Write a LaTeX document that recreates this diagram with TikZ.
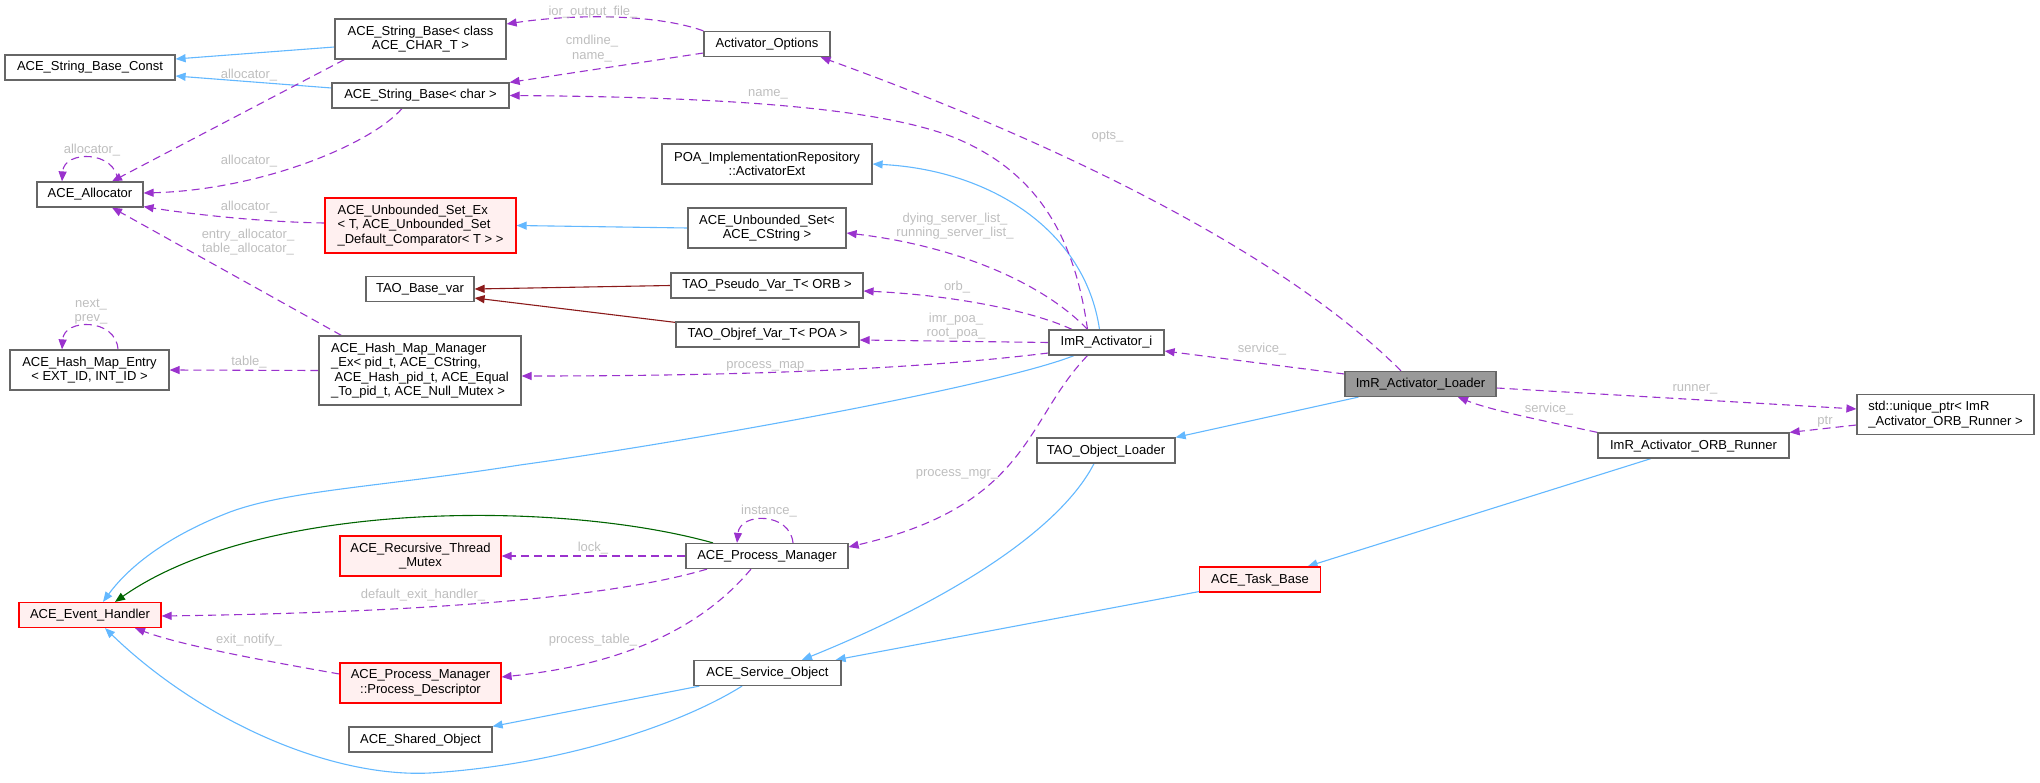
\documentclass[tikz,border=0pt]{standalone}
\usepackage{fontspec}
\setmainfont{Liberation Sans}
\usetikzlibrary{arrows.meta,calc}
\pgfdeclarelayer{bg}
\pgfsetlayers{bg,main}
\definecolor{cPurple}{HTML}{9A32CD}
\definecolor{cBlue}{HTML}{63B8FF}
\definecolor{cDRed}{HTML}{8B1A1A}
\definecolor{cGreen}{HTML}{006400}
\definecolor{cLbl}{HTML}{BEBEBE}
\definecolor{cBorder}{HTML}{666666}
\definecolor{cPink}{HTML}{FFF0F0}
\definecolor{cMain}{HTML}{999999}
\definecolor{cRedB}{HTML}{FF0000}
\tikzset{
  box/.style={draw=cBorder, fill=white, line width=1.2pt, inner sep=0pt, align=center,
    font=\fontsize{13pt}{14.5pt}\selectfont},
  oneline/.style={text height=9.5pt, text depth=2.5pt},
  redbox/.style={box, draw=cRedB, fill=cPink},
  mainbox/.style={box, fill=cMain},
  lbl/.style={text=cLbl, inner sep=0pt, align=center,
    font=\fontsize{13pt}{14.5pt}\selectfont},
  memedge/.style={draw=cPurple, line width=1.1pt, dash pattern=on 8pt off 5pt,
    -{Triangle[length=10pt,width=8pt]}},
  inhedge/.style={draw=cBlue, line width=1.1pt, -{Triangle[length=10pt,width=8pt]}},
  tpledge/.style={draw=cDRed, line width=1.1pt, -{Triangle[length=10pt,width=8pt]}},
  grnedge/.style={draw=cGreen, line width=1.1pt, -{Triangle[length=10pt,width=8pt]}}
}
\begin{document}
\begin{tikzpicture}[x=1pt,y=-1pt]
\useasboundingbox (0,0) rectangle (2040,783);
% nodes
\node[box, oneline, minimum width=170pt, minimum height=25pt] (sbc) at (90,67.5) {ACE\_String\_Base\_Const};
\node[box, minimum width=171pt, minimum height=40pt] (sbclass) at (420.5,39) {ACE\_String\_Base< class\\ACE\_CHAR\_T >};
\node[box, oneline, minimum width=177pt, minimum height=25pt] (sbchar) at (420.5,95.5) {ACE\_String\_Base< char >};
\node[box, oneline, minimum width=106pt, minimum height=25pt] (alloc) at (90,194.5) {ACE\_Allocator};
\node[redbox, align=left, minimum width=191pt, minimum height=55pt] (usetex) at (420.5,225.5) {ACE\_Unbounded\_Set\_Ex\\< T, ACE\_Unbounded\_Set\\\_Default\_Comparator< T > >};
\node[box, oneline, minimum width=108pt, minimum height=25pt] (basevar) at (420,289) {TAO\_Base\_var};
\node[box, minimum width=159pt, minimum height=40pt] (hme) at (89.5,370) {ACE\_Hash\_Map\_Entry\\< EXT\_ID, INT\_ID >};
\node[box, align=left, minimum width=202pt, minimum height=69pt] (hmm) at (420,370.5) {ACE\_Hash\_Map\_Manager\\\_Ex< pid\_t, ACE\_CString,\\~ACE\_Hash\_pid\_t, ACE\_Equal\\\_To\_pid\_t, ACE\_Null\_Mutex >};
\node[redbox, oneline, minimum width=142pt, minimum height=25pt] (evh) at (90,615) {ACE\_Event\_Handler};
\node[redbox, minimum width=161pt, minimum height=40pt] (rtm) at (420.5,556) {ACE\_Recursive\_Thread\\\_Mutex};
\node[redbox, minimum width=161pt, minimum height=40pt] (pd) at (420.5,683) {ACE\_Process\_Manager\\::Process\_Descriptor};
\node[box, oneline, minimum width=143pt, minimum height=25pt] (shobj) at (420.5,739.5) {ACE\_Shared\_Object};
\node[box, oneline, minimum width=126pt, minimum height=25pt] (ao) at (767,44) {Activator\_Options};
\node[box, minimum width=210pt, minimum height=40pt] (poa) at (767,164) {POA\_ImplementationRepository\\::ActivatorExt};
\node[box, minimum width=158pt, minimum height=40pt] (uset) at (767,228) {ACE\_Unbounded\_Set<\\ACE\_CString >};
\node[box, oneline, minimum width=192pt, minimum height=25pt] (pseudo) at (767,285.5) {TAO\_Pseudo\_Var\_T< ORB >};
\node[box, oneline, minimum width=183pt, minimum height=25pt] (objref) at (767.5,334.5) {TAO\_Objref\_Var\_T< POA >};
\node[box, oneline, minimum width=162pt, minimum height=25pt] (pm) at (767,556) {ACE\_Process\_Manager};
\node[box, oneline, minimum width=147pt, minimum height=25pt] (svc) at (767.5,673) {ACE\_Service\_Object};
\node[box, oneline, minimum width=115pt, minimum height=25pt] (imr) at (1106.5,342.5) {ImR\_Activator\_i};
\node[box, oneline, minimum width=138pt, minimum height=25pt] (tol) at (1106,450.5) {TAO\_Object\_Loader};
\node[mainbox, oneline, minimum width=151pt, minimum height=25pt] (loader) at (1420.5,384) {ImR\_Activator\_Loader};
\node[redbox, oneline, minimum width=121pt, minimum height=25pt] (tb) at (1260,579.5) {ACE\_Task\_Base};
\node[box, oneline, minimum width=191pt, minimum height=25pt] (runner) at (1693.5,445.5) {ImR\_Activator\_ORB\_Runner};
\node[box, align=left, minimum width=177pt, minimum height=40pt] (uptr) at (1945.5,414.5) {std::unique\_ptr< ImR\\\_Activator\_ORB\_Runner >};
% edges
\begin{pgfonlayer}{bg}
\draw[inhedge] ([yshift=-8pt]sbclass.west) -- ([yshift=8.5pt]sbc.east);
\draw[inhedge] ([yshift=7.5pt]sbchar.west) -- ([yshift=-8.5pt]sbc.east);
\draw[inhedge] ([xshift=-7pt]imr.north) .. controls (1085,230) and (990,170) .. (poa.east);
\draw[inhedge] (uset.west) -- (usetex.east);
\draw[inhedge] ([xshift=-32.5pt]imr.south) .. controls (1000,385) and (700,440) .. (520,465) .. controls (380,487) and (290,490) .. (230,512) .. controls (170,535) and (130,565) .. ([xshift=13pt]evh.north);
\draw[grnedge] ([xshift=-54pt]pm.north) .. controls (560,500) and (260,500) .. ([xshift=25pt]evh.north);
\draw[inhedge] ([xshift=-25.5pt]svc.south) .. controls (680,725) and (560,765) .. (430,773) .. controls (330,778) and (200,720) .. ([xshift=15pt]evh.south);
\draw[inhedge] ([xshift=6pt]svc.south west) -- (shobj.north east);
\draw[inhedge] ([xshift=-12pt]tol.south) .. controls (1060,530) and (950,600) .. ([xshift=34.5pt]svc.north);
\draw[inhedge] ([yshift=1pt]tb.south west) -- ([xshift=-6pt]svc.north east);
\draw[inhedge] ([xshift=14pt]loader.south west) -- (tol.north east);
\draw[inhedge] ([xshift=-42.5pt]runner.south) -- ([xshift=-13.5pt]tb.north east);
\draw[tpledge] (pseudo.west) -- (basevar.east);
\draw[tpledge] ([yshift=-1pt]objref.north west) -- ([yshift=-9pt]basevar.east);
\draw[memedge] (ao.north west) .. controls (660,15) and (580,13) .. ([yshift=15pt]sbclass.east);
\draw[memedge] ([yshift=-9pt]ao.west) -- (sbchar.north east);
\draw[memedge] ([xshift=-19pt]imr.north) .. controls (1075,240) and (1040,175) .. (960,140) .. controls (880,105) and (700,97) .. (sbchar.east);
\draw[memedge] ([xshift=-19.5pt]loader.north) .. controls (1280,250) and (1050,140) .. ([xshift=-10pt]ao.south east);
\draw[memedge] ([xshift=10pt]sbclass.south west) -- ([xshift=22pt]alloc.north);
\draw[memedge] ([xshift=-18.5pt]sbchar.south) .. controls (370,145) and (260,190) .. ([yshift=1.5pt]alloc.east);
\draw[memedge] ([xshift=28pt]alloc.north) .. controls (116,150) and (64,150) .. ([xshift=-28pt]alloc.north);
\draw[memedge] ([yshift=2.5pt]usetex.west) .. controls (260,222) and (190,214) .. ([yshift=1pt]alloc.south east);
\draw[memedge] ([xshift=23pt]hmm.north west) -- ([xshift=22pt]alloc.south);
\draw[memedge] ([xshift=28.5pt]hme.north) .. controls (116,318) and (64,318) .. ([xshift=-27.5pt]hme.north);
\draw[memedge] (hmm.west) -- (hme.east);
\draw[memedge] ([yshift=-10.5pt]imr.west) .. controls (950,365) and (800,376) .. ([yshift=-5.5pt]hmm.east);
\draw[memedge] ([xshift=-19pt]imr.north) .. controls (1040,280) and (950,245) .. ([yshift=-5pt]uset.east);
\draw[memedge] ([xshift=-34.5pt]imr.north) .. controls (1030,310) and (950,295) .. ([yshift=-5.5pt]pseudo.east);
\draw[memedge] (imr.west) -- ([yshift=-5.5pt]objref.east);
\draw[memedge] ([yshift=10pt]loader.west) -- ([yshift=-8.5pt]imr.east);
\draw[memedge] ([xshift=-19pt]imr.south) .. controls (1025,420) and (1030,505) .. ([yshift=9pt]pm.east);
\draw[memedge] ([xshift=26pt]pm.north) .. controls (790,512) and (740,512) .. ([xshift=-30pt]pm.north);
\draw[memedge] (pm.west) -- (rtm.east);
\draw[memedge] ([xshift=-60pt]pm.south) .. controls (620,595) and (450,612) .. ([yshift=-1pt]evh.east);
\draw[memedge] ([xshift=-16pt]pm.south) .. controls (700,630) and (620,665) .. ([yshift=6pt]pd.east);
\draw[memedge] ([yshift=9pt]pd.west) .. controls (260,660) and (180,645) .. ([xshift=45pt]evh.south);
\draw[memedge] ([yshift=-4pt]loader.east) -- ([yshift=5.5pt]uptr.west);
\draw[memedge] (runner.north west) .. controls (1540,420) and (1490,410) .. ([xshift=37.5pt]loader.south);
\draw[memedge] ([yshift=-10.5pt]uptr.west) -- (runner.north east);
\end{pgfonlayer}
% labels
\node[lbl, oneline] (l1) at (593,12) {ior\_output\_file\_};
\node[lbl] (l2) at (592,48.5) {cmdline\_\\name\_};
\node[lbl, oneline] (l3) at (768,93) {name\_};
\node[lbl, oneline] (l4) at (1107.5,136) {opts\_};
\node[lbl, oneline] (l5) at (249,75) {allocator\_};
\node[lbl, oneline] (l6) at (249,161) {allocator\_};
\node[lbl, oneline] (l7) at (92,150) {allocator\_};
\node[lbl, oneline] (l8) at (249,207) {allocator\_};
\node[lbl] (l9) at (248,242) {entry\_allocator\_\\table\_allocator\_};
\node[lbl] (l10) at (91,311.5) {next\_\\prev\_};
\node[lbl, oneline] (l11) at (249,362) {table\_};
\node[lbl, oneline] (l12) at (769,365) {process\_map\_};
\node[lbl] (l13) at (955,226) {dying\_server\_list\_\\running\_server\_list\_};
\node[lbl, oneline] (l14) at (957,287) {orb\_};
\node[lbl] (l15) at (956,326) {imr\_poa\_\\root\_poa\_};
\node[lbl, oneline] (l16) at (1262,349) {service\_};
\node[lbl, oneline] (l17) at (957,473) {process\_mgr\_};
\node[lbl, oneline] (l18) at (769,511) {instance\_};
\node[lbl, oneline] (l19) at (593,548) {lock\_};
\node[lbl, oneline] (l20) at (423,595) {default\_exit\_handler\_};
\node[lbl, oneline] (l21) at (593,640) {process\_table\_};
\node[lbl, oneline] (l22) at (249,640) {exit\_notify\_};
\node[lbl, oneline] (l23) at (1695,388) {runner\_};
\node[lbl, oneline] (l24) at (1549,409) {service\_};
\node[lbl, oneline] (l25) at (1825,421) {ptr};
\end{tikzpicture}
\end{document}
